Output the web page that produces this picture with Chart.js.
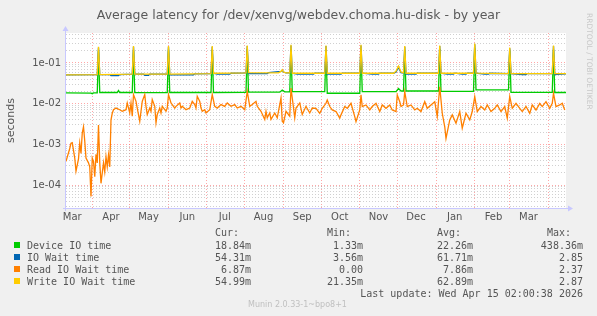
<!DOCTYPE html>
<html>
<head>
<meta charset="utf-8">
<script src="https://cdn.jsdelivr.net/npm/chart.js@4.4.1/dist/chart.umd.min.js"></script>
<style>
  body { margin: 0; background: #f0f0f0; width: 597px; height: 316px; overflow: hidden; position: relative;
         font-family: "DejaVu Sans", sans-serif; color: #555; }
  #c { position: absolute; left: 0; top: 0; }
  .t { position: absolute; white-space: pre; line-height: 12px; }
  .mono { font-family: "DejaVu Sans Mono", monospace; font-size: 10px; }
  .sq { position: absolute; width: 6px; height: 6px; }
  #title { left: 0; width: 597px; top: 7px; text-align: center; font-size: 12.5px; line-height: 15px; color: #5a5a5a; }
  #munin { left: 248px; top: 300px; font-size: 8px; line-height: 10px; color: #c0c0c0; }
  #rrd { left: 585px; top: 13px; font-size: 7.5px; line-height: 9px; color: #c8c8c8; writing-mode: vertical-rl; }
</style>
</head>
<body>
<canvas id="c" width="597" height="228"></canvas>
<div id="title" class="t">Average latency for /dev/xenvg/webdev.choma.hu-disk - by year</div>
<div id="rrd" class="t">RRDTOOL / TOBI OETIKER</div>
<div id="legend"></div>
<div id="munin" class="t">Munin 2.0.33-1~bpo8+1</div>
<script>
// x is days since 2025-03-11, the graph covers 400 days
const monthNames = ['Mar', 'Apr', 'May', 'Jun', 'Jul', 'Aug', 'Sep', 'Oct', 'Nov', 'Dec', 'Jan', 'Feb', 'Mar'];
const monthStarts = [-10, 21, 51, 82, 112, 143, 174, 204, 235, 265, 296, 327, 355, 386];
const yDecades = [-5, -4, -3, -2, -1];
const yMin = 2.72e-5;
const yMax = 0.546;

// [day, seconds]
const deviceSeries = [
  [0,0.0184],[20,0.0182],[21,0.0176],[22,0.0184],[25,0.0184],[26,0.20],[27,0.0188],[41,0.0188],[42,0.021],[43,0.0188],
  [53,0.0188],[54,0.20],[55,0.0186],[81,0.0186],[82,0.21],[83,0.0188],[116,0.0188],[117,0.21],[118,0.0188],[144,0.019],
  [145,0.22],[146,0.0192],[171,0.0192],[173,0.0215],[175,0.0195],[179,0.0195],[180,0.22],[181,0.0197],[207,0.0197],[208,0.21],
  [209,0.018],[235,0.018],[236,0.22],[237,0.0197],[264,0.0197],[266,0.0235],[268,0.0205],[270,0.0205],[271,0.20],[272,0.0205],
  [298,0.0205],[299,0.22],[300,0.020],[326,0.020],[327,0.23],[328,0.0217],[354,0.0217],[355,0.20],[356,0.019],[389,0.019],
  [390,0.21],[391,0.0188],[400,0.0188]
];

const ioWaitSeries = [
  [0,0.051],[25,0.052],[26,0.24],[27,0.052],[35,0.052],[36,0.049],[42,0.049],[43,0.052],[53,0.053],[54,0.25],
  [55,0.053],[62,0.053],[63,0.05],[66,0.05],[67,0.053],[81,0.053],[82,0.25],[83,0.051],[102,0.051],[103,0.054],
  [116,0.055],[117,0.25],[118,0.056],[121,0.053],[131,0.053],[132,0.056],[144,0.057],[145,0.26],[146,0.055],[161,0.055],
  [162,0.058],[172,0.062],[173,0.066],[174,0.06],[176,0.057],[179,0.057],[180,0.27],[181,0.056],[185,0.053],[198,0.053],
  [199,0.056],[207,0.056],[208,0.26],[209,0.053],[220,0.053],[221,0.056],[235,0.056],[236,0.27],[237,0.056],[245,0.053],
  [250,0.053],[251,0.056],[262,0.056],[264,0.06],[266,0.078],[268,0.058],[270,0.057],[271,0.25],[272,0.053],[280,0.053],
  [281,0.056],[298,0.056],[299,0.26],[300,0.056],[305,0.053],[310,0.053],[311,0.056],[317,0.053],[320,0.053],[321,0.056],
  [326,0.056],[327,0.29],[328,0.056],[335,0.053],[338,0.053],[339,0.056],[354,0.055],[355,0.23],[356,0.055],[365,0.052],
  [368,0.052],[369,0.055],[389,0.055],[390,0.26],[391,0.052],[400,0.054]
];

const readSeries = [
  [0,3.8e-4],[3,7.9e-4],[4,1.07e-3],[5,1.1e-3],[7,4.6e-4],[8,2.2e-4],[10,4.4e-4],[11,1.07e-3],[12,6e-4],[13,1.9e-3],
  [14,2.7e-3],[15,1.2e-3],[16,4.6e-4],[18,3.5e-4],[19,2.8e-4],[20,5.2e-5],[21,4.6e-4],[22,3.8e-4],[23,1.6e-4],[24,5.7e-4],
  [25,3.5e-4],[26,3e-3],[27,3.5e-4],[28,1.1e-4],[30,3.5e-4],[31,2.1e-4],[32,5e-4],[33,2.8e-4],[34,5.5e-4],[35,2.8e-4],
  [36,4e-3],[37,5.8e-3],[38,7.1e-3],[40,7.8e-3],[43,7.1e-3],[45,6.5e-3],[48,7.1e-3],[49,0.0104],[51,5.9e-3],[52,0.0104],
  [53,4.9e-3],[54,0.0167],[56,0.0114],[57,7.8e-3],[59,3.7e-3],[60,6.5e-3],[61,0.0114],[63,0.0167],[64,8.6e-3],[65,5.4e-3],
  [67,7.8e-3],[68,6.5e-3],[69,0.0126],[71,8.6e-3],[72,3.4e-3],[73,5.4e-3],[75,7.8e-3],[76,5.9e-3],[77,8.6e-3],[79,7.1e-3],
  [80,6.5e-3],[81,7.8e-3],[82,0.0167],[84,0.0104],[85,9.5e-3],[87,7.8e-3],[88,8.6e-3],[91,0.0104],[92,7.8e-3],[93,8.6e-3],
  [96,7.1e-3],[99,7.8e-3],[101,0.0114],[103,9.5e-3],[104,7.8e-3],[105,0.0152],[107,0.0114],[108,7.8e-3],[109,6.5e-3],[111,7.1e-3],
  [112,5.9e-3],[115,7.1e-3],[117,0.0167],[119,8.6e-3],[121,7.8e-3],[124,9.5e-3],[127,8.6e-3],[129,0.0104],[132,8.6e-3],[135,9.5e-3],
  [137,7.8e-3],[140,8.6e-3],[143,7.1e-3],[145,0.0201],[147,8.6e-3],[149,9.5e-3],[152,0.0114],[153,8.6e-3],[156,6.5e-3],[159,4.1e-3],
  [160,6.5e-3],[161,4.5e-3],[163,5.9e-3],[164,4.1e-3],[167,5.9e-3],[169,4.5e-3],[172,0.0138],[173,3.7e-3],[174,3.4e-3],[176,6.5e-3],
  [179,4.9e-3],[180,0.0243],[183,4.5e-3],[184,7.8e-3],[187,0.0104],[189,5.4e-3],[192,8.6e-3],[195,5.9e-3],[197,7.8e-3],[200,7.7e-3],
  [203,5.8e-3],[205,7.7e-3],[208,0.0102],[209,0.0123],[211,8.5e-3],[213,7.0e-3],[216,6.4e-3],[219,4.4e-3],[220,5.3e-3],[223,8.5e-3],
  [225,7.7e-3],[228,0.0102],[231,4.8e-3],[232,3.6e-3],[235,7.0e-3],[236,0.0164],[237,8.5e-3],[240,9.3e-3],[243,7.0e-3],[245,8.5e-3],
  [248,0.0102],[251,6.4e-3],[253,9.3e-3],[256,7.7e-3],[259,9.3e-3],[261,7.0e-3],[264,6.4e-3],[265,0.0164],[267,0.0112],[268,8.5e-3],
  [270,9.3e-3],[271,0.0197],[273,8.5e-3],[276,9.3e-3],[279,7.0e-3],[281,7.7e-3],[284,6.4e-3],[287,0.0112],[289,7.7e-3],[292,9.3e-3],
  [295,0.0112],[297,4.8e-3],[299,0.026],[301,5.8e-3],[303,2.7e-3],[304,1.4e-3],[307,4.0e-3],[309,5.3e-3],[312,3.3e-3],[315,6.4e-3],
  [317,2.5e-3],[320,5.8e-3],[323,4.0e-3],[325,6.4e-3],[327,0.0149],[329,6.4e-3],[332,8.5e-3],[335,7.0e-3],[337,9.3e-3],[340,6.4e-3],
  [343,7.7e-3],[345,9.3e-3],[348,6.4e-3],[351,8.5e-3],[353,4.4e-3],[355,0.0149],[357,7.7e-3],[360,0.0102],[363,7.7e-3],[365,6.4e-3],
  [368,8.5e-3],[371,5.8e-3],[373,9.3e-3],[376,7.0e-3],[379,0.0102],[381,8.5e-3],[384,0.0112],[387,7.7e-3],[389,0.0102],[390,0.018],
  [392,8.5e-3],[395,9.3e-3],[397,0.0102],[399,7.0e-3]
];

const writeSeries = [
  [0,0.051],[25,0.052],[26,0.25],[27,0.052],[53,0.053],[54,0.26],[55,0.053],[81,0.053],[82,0.26],[83,0.053],
  [100,0.054],[116,0.055],[117,0.26],[118,0.056],[144,0.057],[145,0.27],[146,0.058],[170,0.057],[172,0.062],[173,0.068],
  [174,0.06],[176,0.057],[179,0.057],[180,0.28],[181,0.056],[207,0.056],[208,0.27],[209,0.056],[235,0.056],[236,0.28],
  [237,0.056],[262,0.056],[264,0.063],[266,0.084],[268,0.06],[270,0.057],[271,0.26],[272,0.056],[298,0.056],[299,0.27],
  [300,0.056],[326,0.056],[327,0.30],[328,0.056],[354,0.055],[355,0.24],[356,0.055],[389,0.055],[390,0.27],[391,0.055],
  [400,0.055]
];

const seriesNames = ['Device IO time', 'IO Wait time', 'Read IO Wait time', 'Write IO Wait time'];
const seriesColors = ['#00cc00', '#0066b3', '#ff8000', '#ffcc00'];
const curVals = ['18.84m', '54.31m', '6.87m', '54.99m'];
const minVals = ['1.33m', '3.56m', '0.00', '21.35m'];
const avgVals = ['22.26m', '61.71m', '7.86m', '62.89m'];
const maxVals = ['438.36m', '2.85', '2.37', '2.87'];
const lastUpdate = 'Last update: Wed Apr 15 02:00:38 2026';

const MAJOR = 'rgba(255,95,95,0.55)';
const MINOR = 'rgba(170,170,170,0.55)';

// x ticks: month boundaries carry the red grid lines, mid-month ticks carry the names
const xTicks = [];
monthStarts.forEach((d, i) => {
  if (d >= 0 && d <= 400) xTicks.push({ value: d, edge: true });
  if (i < monthNames.length) xTicks.push({ value: d + 15, name: monthNames[i] });
});
xTicks.sort((a, b) => a.value - b.value);

const yTicks = [];
yDecades.forEach(e => {
  for (let m = 1; m <= 9; m++) {
    const v = m * Math.pow(10, e);
    if (v >= yMin && v <= yMax) yTicks.push({ value: v, major: m === 1, exp: e });
  }
});

const toPts = s => s.map(p => ({ x: p[0], y: p[1] }));

const frame = {
  id: 'frame',
  beforeDraw(chart) {
    const { ctx, chartArea: a } = chart;
    ctx.save();
    ctx.fillStyle = '#ffffff';
    ctx.fillRect(a.left, a.top, a.right - a.left, a.bottom - a.top);
    ctx.restore();
  },
  afterDraw(chart) {
    const { ctx, chartArea: a } = chart;
    ctx.save();
    ctx.strokeStyle = 'rgb(200,200,255)';
    ctx.fillStyle = 'rgb(200,200,255)';
    ctx.lineWidth = 1;
    ctx.beginPath();
    ctx.moveTo(a.left - 0.5, a.bottom + 3);
    ctx.lineTo(a.left - 0.5, a.top - 2);
    ctx.moveTo(a.left - 3, a.bottom + 0.5);
    ctx.lineTo(a.right + 2, a.bottom + 0.5);
    ctx.stroke();
    ctx.beginPath();
    ctx.moveTo(a.left - 3.5, a.top - 2);
    ctx.lineTo(a.left + 2.5, a.top - 2);
    ctx.lineTo(a.left - 0.5, a.top - 7);
    ctx.fill();
    ctx.beginPath();
    ctx.moveTo(a.right + 2, a.bottom - 2.5);
    ctx.lineTo(a.right + 2, a.bottom + 3.5);
    ctx.lineTo(a.right + 7, a.bottom + 0.5);
    ctx.fill();
    ctx.restore();
  }
};

const line = (label, series, color, order, width) => ({
  label, data: toPts(series), borderColor: color, backgroundColor: color,
  borderWidth: width, pointRadius: 0, tension: 0, fill: false, order
});

new Chart(document.getElementById('c'), {
  type: 'line',
  data: {
    datasets: [
      line(seriesNames[0], deviceSeries, seriesColors[0], 4, 1.3),
      line(seriesNames[1], ioWaitSeries, seriesColors[1], 3, 1.3),
      line(seriesNames[2], readSeries, seriesColors[2], 2, 1.3),
      line(seriesNames[3], writeSeries, seriesColors[3], 1, 1.3)
    ]
  },
  options: {
    responsive: false,
    animation: false,
    layout: { padding: { top: 33, right: 31, left: 0, bottom: 0 } },
    plugins: { legend: { display: false }, tooltip: { enabled: false } },
    scales: {
      x: {
        type: 'linear', min: 0, max: 400,
        afterBuildTicks(s) { s.ticks = xTicks.map(t => ({ ...t })); },
        afterFit(s) { s.height = 20; },
        grid: { color: c => (c.tick && c.tick.edge) ? MAJOR : 'rgba(0,0,0,0)', lineWidth: 1, drawTicks: false },
        border: { display: false, dash: [1, 2] },
        ticks: {
          autoSkip: false, maxRotation: 0, padding: 3, color: '#555',
          font: { family: 'DejaVu Sans', size: 10 },
          callback: (v, i, t) => t[i].name || ''
        }
      },
      y: {
        type: 'logarithmic', min: yMin, max: yMax,
        afterBuildTicks(s) { s.ticks = yTicks.map(t => ({ ...t })); },
        afterFit(s) { s.width = 66; },
        grid: { color: c => (c.tick && c.tick.major) ? MAJOR : MINOR, lineWidth: 1, drawTicks: false },
        border: { display: false, dash: [1, 2] },
        ticks: {
          autoSkip: false, padding: 5, color: '#555',
          font: { family: 'DejaVu Sans', size: 10 },
          callback: (v, i, t) => t[i].major ? '1e-0' + (-t[i].exp) : ''
        },
        title: {
          display: true, text: 'seconds', color: '#555',
          font: { family: 'DejaVu Sans', size: 11 }, padding: { top: 5, bottom: 0 }
        }
      }
    }
  },
  plugins: [frame]
});

// legend block below the graph
const leg = document.getElementById('legend');
const add = (cls, text, style) => {
  const d = document.createElement('div');
  d.className = cls;
  d.textContent = text;
  Object.assign(d.style, style);
  leg.appendChild(d);
};
const colRight = [251, 363, 473, 583];
const heads = ['Cur:', 'Min:', 'Avg:', 'Max:'];
const cols = [curVals, minVals, avgVals, maxVals];
heads.forEach((h, j) => add('t mono', h, { left: (colRight[j] - 36) + 'px', top: '227px' }));
seriesNames.forEach((n, i) => {
  const top = 240 + i * 12;
  const sq = document.createElement('div');
  sq.className = 'sq';
  Object.assign(sq.style, { left: '14px', top: (top + 2) + 'px', background: seriesColors[i] });
  leg.appendChild(sq);
  add('t mono', n, { left: '27px', top: top + 'px' });
  cols.forEach((c, j) => add('t mono', c[i], { right: (597 - colRight[j]) + 'px', top: top + 'px', textAlign: 'right' }));
});
add('t mono', lastUpdate, { right: (597 - 583) + 'px', top: '288px' });
</script>
</body>
</html>
